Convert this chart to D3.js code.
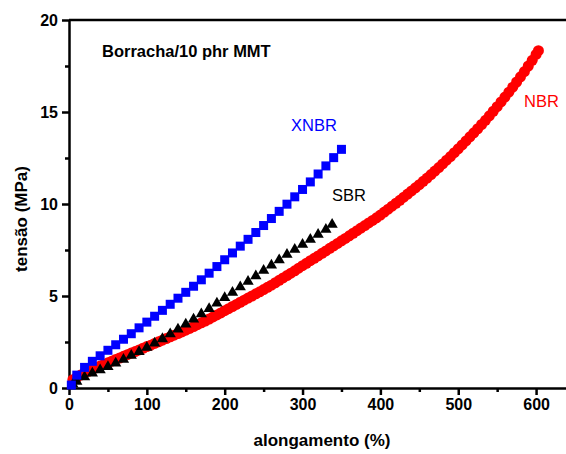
<!DOCTYPE html>
<html lang="pt">
  <head>
    <meta charset="UTF-8" />
    <title>Tensão x alongamento</title>
    <style>
      body { margin: 0; background: #fff; }
      svg { display: block; font-family: "Liberation Sans", Arial, sans-serif; }
      .axis path, .axis line { stroke: #000; stroke-width: 2.5; }
      .axis text { font-size: 16px; font-weight: bold; fill: #000; }
    </style>
  </head>
  <body>
    <script src="https://cdn.jsdelivr.net/npm/d3@7/dist/d3.min.js"></script>
    <script>

    // XNBR (quadrados azuis)
    var xnbrStrain = [3, 10, 20, 30, 40, 50, 60, 70, 80, 90, 100, 110, 120, 130, 140, 150, 160, 170, 180,
      190, 200, 210, 220, 230, 240, 250, 260, 270, 280, 290, 300, 310, 320, 330, 340, 350];
    var xnbrStress = [0.16, 0.7, 1.12, 1.45, 1.75, 2.05, 2.35, 2.65, 2.95, 3.27, 3.58, 3.9, 4.22, 4.55,
      4.88, 5.2, 5.53, 5.88, 6.24, 6.6, 6.97, 7.34, 7.71, 8.08, 8.45, 8.83, 9.21, 9.6, 9.99, 10.39,
      10.79, 11.2, 11.63, 12.07, 12.52, 12.97];

    // SBR (triangulos pretos)
    var sbrStrain = [5, 10, 20, 30, 40, 50, 60, 70, 80, 90, 100, 110, 120, 130, 140, 150, 160, 170, 180,
      190, 200, 210, 220, 230, 240, 250, 260, 270, 280, 290, 300, 310, 320, 330, 338];
    var sbrStress = [0.2, 0.35, 0.6, 0.8, 0.98, 1.15, 1.35, 1.55, 1.76, 1.97, 2.2, 2.43, 2.67, 2.93,
      3.19, 3.46, 3.74, 4.02, 4.31, 4.6, 4.9, 5.19, 5.49, 5.79, 6.09, 6.38, 6.67, 6.96, 7.25, 7.53,
      7.8, 8.07, 8.34, 8.62, 8.88];

    // NBR (circulos vermelhos)
    var nbrStrain = [5, 10, 15, 20, 25, 30, 35, 40, 45, 50, 55, 60, 65, 70, 75, 80, 85, 90, 95, 100,
      105, 110, 115, 120, 125, 130, 135, 140, 145, 150, 155, 160, 165, 170, 175, 180, 185, 190, 195, 200,
      205, 210, 215, 220, 225, 230, 235, 240, 245, 250, 255, 260, 265, 270, 275, 280, 285, 290, 295, 300,
      305, 310, 315, 320, 325, 330, 335, 340, 345, 350, 355, 360, 365, 370, 375, 380, 385, 390, 395, 400,
      405, 410, 415, 420, 425, 430, 435, 440, 445, 450, 455, 460, 465, 470, 475, 480, 485, 490, 495, 500,
      505, 510, 515, 520, 525, 530, 535, 540, 545, 550, 555, 560, 565, 570, 575, 580, 585, 590, 595, 600,
      603];
    var nbrStress = [0.45, 0.58, 0.7, 0.81, 0.91, 1.01, 1.1, 1.19, 1.28, 1.37, 1.46, 1.55, 1.63, 1.72,
      1.81, 1.9, 1.98, 2.07, 2.16, 2.25, 2.33, 2.42, 2.51, 2.6, 2.69, 2.78, 2.87, 2.96, 3.05, 3.14,
      3.24, 3.34, 3.44, 3.54, 3.64, 3.75, 3.86, 3.97, 4.08, 4.2, 4.31, 4.43, 4.54, 4.66, 4.77, 4.89,
      5.0, 5.12, 5.23, 5.35, 5.47, 5.59, 5.72, 5.85, 5.98, 6.11, 6.24, 6.37, 6.51, 6.65, 6.78, 6.92,
      7.05, 7.18, 7.32, 7.45, 7.59, 7.72, 7.86, 8.0, 8.13, 8.27, 8.41, 8.55, 8.69, 8.83, 8.97, 9.11,
      9.25, 9.4, 9.56, 9.72, 9.88, 10.04, 10.2, 10.37, 10.54, 10.71, 10.88, 11.05, 11.23, 11.41, 11.6,
      11.79, 11.98, 12.18, 12.38, 12.58, 12.79, 13.0, 13.21, 13.43, 13.65, 13.87, 14.09, 14.32, 14.55,
      14.79, 15.04, 15.29, 15.55, 15.81, 16.08, 16.35, 16.63, 16.91, 17.2, 17.5, 17.81, 18.13, 18.33];

    var xTicks = [0, 100, 200, 300, 400, 500, 600];
    var yTicks = [0, 5, 10, 15, 20];

    var w = 566,
        h = 454;

    var svg = d3.select("body").append("svg")
      .attr("width", w)
      .attr("height", h);

    var xScale = d3.scaleLinear()
      .domain([0, 650])
      .range([69, 575]);

    var yScale = d3.scaleLinear()
      .domain([0, 20])
      .range([388, 20]);

    function pairs(xs, ys) {
      return xs.map(function(x, i) { return { x: x, y: ys[i] }; });
    }

    // minor ticks (shorter, no labels)
    svg.append("g")
      .attr("class", "axis")
      .attr("transform", "translate(0," + yScale(0) + ")")
      .call(d3.axisBottom(xScale).tickValues([50, 150, 250, 350, 450, 550]).tickSize(4).tickFormat(""))
      .select(".domain").remove();

    svg.append("g")
      .attr("class", "axis")
      .attr("transform", "translate(" + xScale(0) + ",0)")
      .call(d3.axisLeft(yScale).tickValues([2.5, 7.5, 12.5, 17.5]).tickSize(4).tickFormat(""))
      .select(".domain").remove();

    // main axes
    svg.append("g")
      .attr("class", "axis")
      .attr("transform", "translate(0," + yScale(0) + ")")
      .call(d3.axisBottom(xScale).tickValues(xTicks).tickSize(7).tickSizeOuter(0).tickPadding(4));

    svg.append("g")
      .attr("class", "axis")
      .attr("transform", "translate(" + xScale(0) + ",0)")
      .call(d3.axisLeft(yScale).tickValues(yTicks).tickSize(7).tickSizeOuter(0).tickPadding(4));

    // top frame line
    svg.append("line")
      .attr("x1", xScale(0))
      .attr("x2", w)
      .attr("y1", yScale(20))
      .attr("y2", yScale(20))
      .attr("stroke", "#000")
      .attr("stroke-width", 2.5);

    // NBR circles
    svg.append("g")
      .selectAll("circle")
      .data(pairs(nbrStrain, nbrStress))
      .enter().append("circle")
      .attr("cx", function(d) { return xScale(d.x); })
      .attr("cy", function(d) { return yScale(d.y); })
      .attr("r", 5.5)
      .attr("fill", "#ff0000");

    // SBR triangles
    var tri = d3.symbol().type(d3.symbolTriangle).size(55);
    svg.append("g")
      .selectAll("path")
      .data(pairs(sbrStrain, sbrStress))
      .enter().append("path")
      .attr("d", tri)
      .attr("transform", function(d) { return "translate(" + xScale(d.x) + "," + yScale(d.y) + ")"; })
      .attr("fill", "#000");

    // XNBR squares
    svg.append("g")
      .selectAll("rect")
      .data(pairs(xnbrStrain, xnbrStress))
      .enter().append("rect")
      .attr("x", function(d) { return xScale(d.x) - 4.5; })
      .attr("y", function(d) { return yScale(d.y) - 4.5; })
      .attr("width", 9)
      .attr("height", 9)
      .attr("fill", "#0000ff");

    // labels
    svg.append("text")
      .attr("x", 102)
      .attr("y", 57)
      .attr("font-size", 16.5)
      .attr("font-weight", "bold")
      .text("Borracha/10 phr MMT");

    svg.append("text")
      .attr("x", 291)
      .attr("y", 131)
      .attr("font-size", 16.5)
      .attr("fill", "#0000ff")
      .text("XNBR");

    svg.append("text")
      .attr("x", 332)
      .attr("y", 201)
      .attr("font-size", 16.5)
      .attr("fill", "#000")
      .text("SBR");

    svg.append("text")
      .attr("x", 524)
      .attr("y", 107)
      .attr("font-size", 16.5)
      .attr("fill", "#ff0000")
      .text("NBR");

    // axis titles
    svg.append("text")
      .attr("x", 322)
      .attr("y", 446)
      .attr("text-anchor", "middle")
      .attr("font-size", 17)
      .attr("font-weight", "bold")
      .text("alongamento (%)");

    svg.append("text")
      .attr("transform", "translate(27,219) rotate(-90)")
      .attr("text-anchor", "middle")
      .attr("font-size", 17)
      .attr("font-weight", "bold")
      .text("tensão (MPa)");

    </script>
  </body>
</html>
